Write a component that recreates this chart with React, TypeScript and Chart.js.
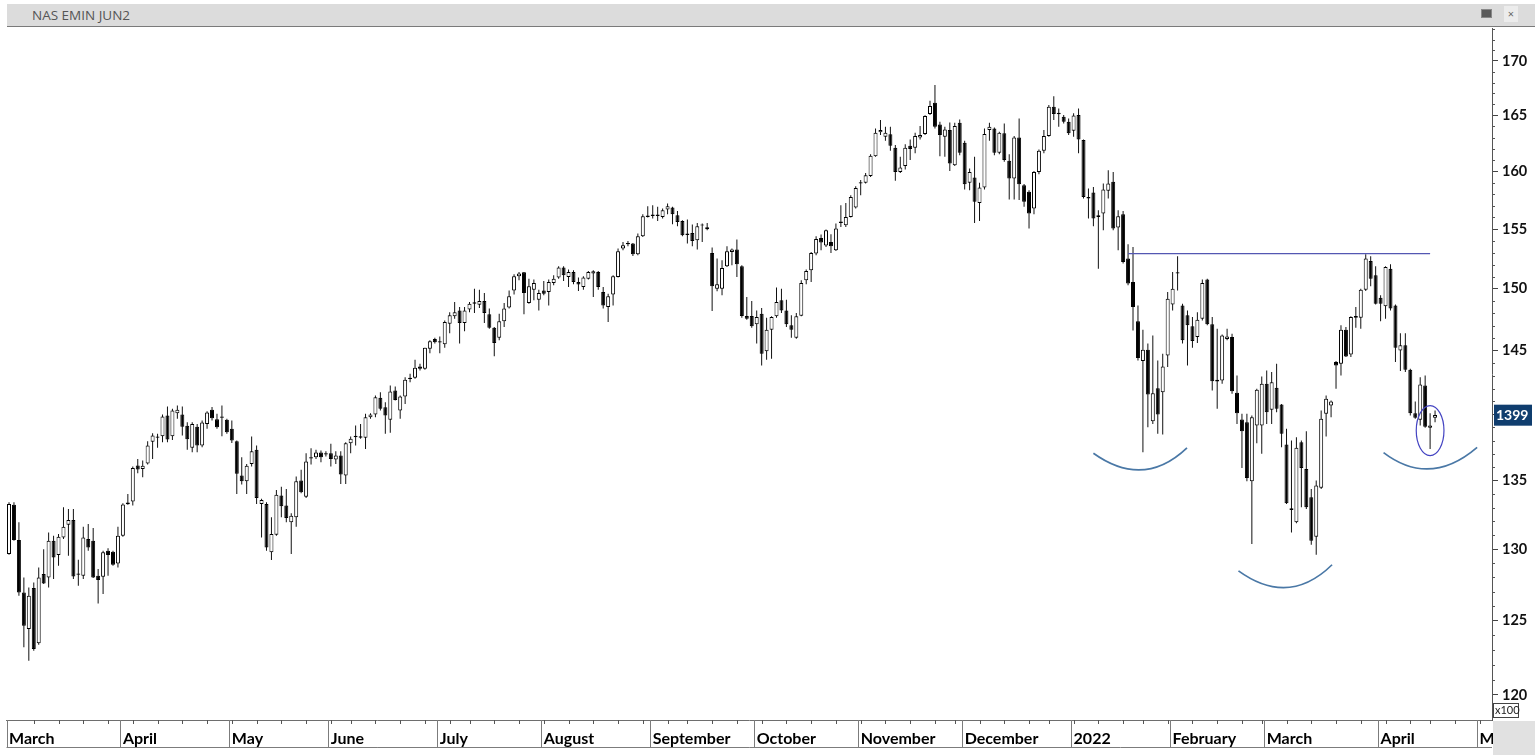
import { useEffect, useRef } from "react";
import Chart from "chart.js/auto";

const title = "NAS EMIN JUN2";

// trading sessions: weekdays from the first session, minus exchange holidays
const firstSession = "2021-03-01";
const sessionCount = 300;
const holidays = ["2021-05-31", "2021-07-05", "2021-09-06", "2021-11-25", "2021-12-24", "2022-01-17", "2022-02-21", "2022-04-15"];
const monthNames = ["January", "February", "March", "April", "May", "June", "July", "August", "September", "October", "November", "December"];

// daily OHLC, in points / 100 (one line per month, Mar 2021 .. Apr 2022)
const opens = [
  129.66, 133.21, 130.66, 126.95, 124.42, 127.26, 123.45, 128.24, 128.0, 130.61, 129.59, 130.85, 131.77, 132.11, 128.28, 128.12, 130.73, 130.61, 128.12, 128.05, 129.9, 129.83, 128.99,
  130.97, 133.38, 133.45, 136.13, 135.87, 136.28, 137.92, 138.31, 138.33, 139.91, 138.33, 140.09, 139.99, 139.12, 137.45, 139.06, 137.62, 139.27, 140.35, 139.63, 139.84, 139.58,
  138.89, 137.95, 135.37, 134.95, 136.24, 137.3, 133.28, 133.28, 129.78, 131.04, 133.89, 133.16, 131.94, 132.3, 135.0, 133.81, 136.74, 136.74, 137.09, 137.04,
  137.04, 136.58, 136.87, 135.37, 137.8, 138.25, 138.33, 138.21, 139.78, 139.99, 141.28, 140.55, 139.58, 141.85, 140.3, 141.38, 142.74, 142.85, 143.74, 143.56, 145.15, 145.92,
  145.73, 145.49, 147.15, 147.75, 148.23, 147.2, 148.3, 148.78, 148.7, 148.99, 147.91, 146.83, 146.03, 147.36, 148.46, 149.87, 151.03, 151.37, 148.83, 149.93, 149.11,
  149.87, 149.73, 150.48, 150.93, 151.76, 150.98, 151.39, 150.56, 150.15, 150.84, 151.26, 151.39, 149.73, 148.51, 149.54, 150.98, 153.35, 153.72, 153.78, 152.87, 154.4, 156.16,
  156.24, 156.12, 156.04, 156.68, 156.86, 156.18, 155.7, 154.63, 154.68, 154.06, 155.31, 155.16, 152.98, 150.01, 150.01, 151.87, 153.06, 153.27, 151.87, 147.77, 147.77,
  147.1, 147.96, 144.95, 146.67, 147.75, 149.05, 148.23, 147.02, 146.03, 147.8, 150.7, 151.53, 152.93, 154.25, 153.61, 153.91, 153.21, 155.53, 155.33, 156.04, 156.86,
  159.05, 158.99, 159.6, 161.34, 163.47, 163.07, 163.29, 162.09, 159.95, 160.46, 162.27, 162.09, 163.01, 163.31, 165.11, 166.14, 164.18, 163.07, 163.67, 160.54, 164.33,
  162.53, 158.99, 159.46, 157.25, 158.59, 163.67, 163.82, 161.64, 163.38, 160.93, 159.37, 163.01, 158.79, 158.21, 156.77, 159.95, 161.82, 163.13, 165.78, 165.23, 164.87, 164.42,
  163.61, 165.02, 162.77, 157.77, 158.16, 156.04, 156.34, 158.3, 159.08, 155.13, 156.27, 152.51, 150.56, 147.34, 144.16, 145.07, 139.48, 142.03, 141.72, 144.61,
  148.72, 151.37, 148.64, 147.83, 146.94, 146.08, 147.56, 150.76, 147.1, 142.69, 142.63, 145.92, 146.08, 141.67, 139.61, 139.4, 134.95, 139.14, 139.14,
  142.37, 140.35, 142.06, 140.76, 137.7, 132.96, 131.94, 137.87, 135.87, 133.76, 130.9, 134.46, 140.04, 140.68, 144.08, 143.95, 146.67, 144.69, 147.77, 147.64, 149.93, 152.31, 151.12,
  149.27, 148.56, 151.67, 148.64, 145.01, 145.41, 143.48, 140.09, 139.58, 142.24, 138.97, 139.74,
];
const highs = [
  133.4, 133.4, 131.94, 128.0, 127.3, 127.65, 128.71, 130.01, 131.21, 130.97, 131.09, 133.03, 132.91, 132.91, 129.25, 131.62, 131.82, 131.53, 128.59, 129.9, 130.08, 129.9, 131.62,
  133.32, 134.01, 136.04, 136.61, 136.49, 137.95, 138.56, 138.51, 139.99, 140.61, 140.43, 140.68, 140.61, 139.4, 139.4, 139.27, 139.53, 140.24, 140.56, 140.04, 140.68, 139.66,
  139.53, 138.0, 136.74, 136.24, 138.31, 137.62, 133.65, 133.4, 132.3, 134.31, 134.55, 134.38, 132.59, 135.3, 135.8, 137.04, 137.42, 137.3, 137.24, 137.19,
  137.75, 137.19, 137.19, 137.87, 138.31, 139.14, 139.27, 140.04, 140.09, 141.46, 141.72, 140.94, 142.24, 142.16, 141.46, 142.89, 143.16, 144.27, 143.95, 145.23, 145.81, 146.03,
  146.13, 147.42, 148.09, 148.91, 148.51, 148.51, 148.91, 150.01, 149.93, 149.65, 148.38, 146.88, 147.96, 148.83, 149.87, 151.2, 151.39, 151.39, 150.84, 150.76, 149.93,
  150.65, 150.76, 151.12, 151.87, 151.87, 151.59, 151.53, 150.93, 151.03, 151.47, 151.53, 151.47, 150.15, 149.6, 151.12, 153.35, 153.91, 154.0, 153.83, 154.63, 156.27, 156.97,
  157.05, 156.91, 156.77, 157.2, 156.91, 156.56, 155.76, 155.82, 155.39, 155.53, 155.48, 155.53, 153.44, 152.51, 152.37, 153.55, 153.35, 154.12, 151.95, 149.32, 148.99,
  148.23, 148.43, 147.64, 147.75, 150.1, 150.01, 149.11, 147.83, 148.01, 150.7, 151.59, 153.06, 154.4, 154.54, 154.97, 154.57, 155.48, 157.05, 157.25, 157.92, 158.7,
  159.23, 159.86, 161.52, 163.82, 164.57, 163.97, 163.97, 162.33, 161.28, 162.39, 162.83, 163.43, 164.03, 165.0, 166.33, 167.78, 164.42, 163.97, 164.36, 164.33, 164.63,
  162.71, 160.26, 161.28, 158.99, 163.82, 164.33, 163.91, 163.52, 164.27, 161.52, 163.13, 164.72, 158.9, 158.35, 160.04, 161.94, 163.67, 165.93, 166.75, 165.63, 165.02, 164.72,
  165.18, 165.63, 162.83, 158.5, 158.64, 156.62, 158.94, 160.1, 159.95, 156.62, 156.56, 153.72, 153.49, 148.64, 146.67, 145.55, 146.21, 144.21, 144.75, 149.73,
  151.39, 152.71, 148.78, 148.23, 147.69, 148.09, 150.76, 150.84, 147.69, 146.75, 146.29, 146.75, 146.34, 143.03, 140.04, 140.04, 139.91, 141.98, 142.95,
  143.42, 143.29, 143.95, 140.81, 138.89, 138.0, 138.25, 138.0, 138.71, 134.38, 135.0, 140.3, 141.46, 141.07, 144.16, 147.02, 146.88, 147.75, 148.51, 150.01, 152.87, 152.71, 151.87,
  149.46, 151.87, 152.03, 148.72, 146.39, 146.39, 143.55, 141.0, 142.89, 143.03, 140.09, 140.3,
];
const lows = [
  129.61, 130.61, 126.72, 123.18, 122.27, 122.95, 123.36, 127.54, 127.3, 127.89, 128.83, 130.73, 129.54, 127.89, 127.42, 127.89, 129.9, 127.96, 126.18, 126.84, 128.12, 128.83, 128.71,
  130.9, 133.21, 133.16, 135.54, 135.25, 136.19, 136.61, 137.45, 137.87, 137.87, 138.05, 139.66, 138.38, 137.3, 137.12, 137.12, 137.49, 138.89, 139.53, 138.89, 138.33, 138.51,
  137.82, 134.01, 134.7, 134.01, 136.04, 133.28, 130.85, 129.9, 129.23, 130.97, 132.3, 131.94, 129.66, 131.62, 134.06, 133.72, 136.19, 136.61, 136.36, 136.79,
  136.04, 136.24, 134.75, 134.75, 137.04, 137.62, 138.13, 137.37, 139.66, 139.78, 140.3, 138.51, 138.59, 141.07, 139.66, 140.81, 142.5, 142.77, 143.42, 143.48, 144.79, 145.55,
  144.79, 145.23, 146.39, 147.56, 145.55, 146.55, 148.09, 148.01, 148.43, 147.2, 146.75, 144.55, 145.81, 146.88, 148.38, 149.54, 150.7, 147.91, 148.78, 149.05, 148.23,
  149.46, 148.64, 150.29, 150.84, 150.65, 150.15, 150.37, 149.82, 149.93, 150.76, 149.32, 149.93, 148.38, 147.28, 148.64, 150.93, 153.21, 153.55, 152.73, 152.79, 154.34, 155.99,
  155.9, 155.7, 155.9, 156.27, 155.42, 155.25, 154.4, 153.78, 153.55, 153.27, 153.91, 154.91, 148.18, 149.79, 149.46, 151.81, 151.95, 150.98, 147.64, 147.48, 146.83,
  145.55, 143.82, 144.27, 144.35, 147.64, 148.01, 146.88, 146.03, 145.95, 147.75, 150.37, 150.56, 152.79, 153.21, 153.49, 152.98, 153.15, 155.19, 155.19, 155.99, 156.77,
  157.92, 158.94, 159.51, 161.28, 163.22, 162.71, 161.82, 159.17, 159.86, 160.16, 160.99, 161.59, 162.83, 163.22, 165.02, 163.82, 161.34, 161.28, 160.04, 160.46, 161.43,
  158.41, 158.35, 155.53, 155.7, 158.41, 162.71, 161.43, 161.52, 160.84, 157.55, 157.55, 157.49, 156.91, 155.05, 156.27, 159.75, 161.59, 163.07, 164.57, 163.97, 164.27, 163.22,
  163.07, 161.59, 157.63, 155.9, 155.25, 151.67, 154.91, 157.63, 154.91, 153.21, 152.1, 150.29, 146.61, 144.21, 137.12, 139.01, 139.27, 138.51, 138.46, 143.69,
  148.23, 149.87, 145.55, 143.82, 145.23, 145.59, 147.42, 147.02, 141.85, 140.43, 142.37, 145.81, 141.59, 139.27, 135.94, 134.95, 130.37, 137.8, 137.0,
  139.27, 139.27, 140.17, 137.49, 133.28, 131.21, 131.87, 133.03, 132.91, 130.32, 129.61, 134.38, 138.31, 139.78, 141.98, 143.03, 144.48, 144.48, 146.83, 146.75, 149.82, 150.21, 148.72,
  147.36, 147.56, 148.23, 144.08, 143.37, 143.29, 139.91, 139.66, 139.14, 138.97, 137.37, 139.4,
];
const closes = [
  133.28, 130.66, 126.95, 124.65, 126.72, 123.07, 128.0, 127.58, 130.61, 129.42, 130.9, 131.62, 132.11, 128.07, 128.19, 130.85, 130.13, 128.0, 127.82, 129.78, 129.59, 128.9, 130.97,
  133.23, 133.25, 135.94, 135.82, 136.11, 137.62, 138.38, 138.21, 139.84, 138.08, 140.3, 140.35, 139.06, 138.1, 139.27, 137.62, 139.37, 140.14, 139.71, 139.01, 139.74, 138.64,
  138.0, 135.5, 134.95, 136.11, 137.19, 133.72, 133.57, 130.13, 131.09, 133.96, 133.11, 132.26, 132.42, 134.95, 134.13, 136.43, 136.64, 137.09, 136.74, 136.94,
  136.61, 136.87, 135.45, 137.8, 138.13, 138.36, 138.21, 139.78, 139.99, 141.33, 140.43, 139.91, 141.77, 141.12, 141.38, 142.69, 142.85, 143.64, 143.56, 145.23, 145.73, 145.65,
  145.63, 147.28, 147.83, 148.09, 147.2, 148.23, 148.78, 148.89, 148.99, 148.01, 146.83, 145.59, 147.34, 148.38, 149.38, 151.03, 151.26, 149.65, 150.21, 150.48, 149.65,
  149.6, 150.56, 150.84, 151.76, 151.12, 151.39, 150.56, 150.35, 150.93, 151.39, 151.45, 150.15, 148.64, 149.38, 151.03, 153.12, 153.63, 153.83, 152.87, 154.4, 156.1, 156.04,
  156.12, 156.24, 156.62, 156.97, 156.27, 155.61, 154.48, 154.51, 154.0, 155.25, 155.39, 154.99, 150.21, 150.37, 151.73, 153.12, 153.27, 152.03, 147.77, 147.56, 146.94,
  147.69, 144.75, 146.67, 147.69, 148.91, 148.23, 147.1, 146.67, 147.75, 150.48, 151.47, 152.98, 154.17, 153.86, 154.91, 153.55, 155.05, 155.65, 156.04, 157.77, 158.55,
  158.94, 159.66, 161.37, 163.43, 163.67, 163.43, 162.27, 159.95, 160.34, 162.09, 161.97, 163.13, 163.22, 164.93, 165.84, 163.97, 163.22, 163.73, 160.69, 164.03, 161.64,
  158.88, 159.95, 157.34, 158.59, 163.31, 163.97, 161.64, 163.43, 160.99, 159.37, 163.01, 158.88, 157.34, 156.34, 159.95, 161.82, 163.13, 165.78, 165.11, 165.09, 164.42, 163.38,
  164.99, 162.83, 157.77, 157.63, 155.9, 156.18, 158.41, 158.94, 155.05, 156.1, 152.23, 150.43, 148.51, 144.4, 145.07, 141.54, 141.64, 139.99, 143.74, 149.19,
  150.01, 151.26, 145.81, 147.02, 145.76, 147.48, 150.48, 147.1, 142.58, 142.55, 146.21, 146.13, 141.79, 140.09, 138.71, 135.2, 139.78, 141.9, 142.37,
  140.17, 142.5, 140.43, 138.51, 133.32, 132.84, 137.45, 135.94, 133.03, 130.61, 134.63, 139.66, 141.2, 140.99, 143.82, 146.67, 144.53, 147.7, 147.64, 149.93, 152.51, 150.84, 148.78,
  148.78, 151.81, 148.38, 145.23, 145.41, 143.48, 140.09, 139.74, 142.32, 139.06, 139.14, 139.95,
];

// price axis (log scale)
const majorTicks = [120, 125, 130, 135, 140, 145, 150, 155, 160, 165, 170];
const yMin = 118.36;
const yMax = 173.11;
const lastPrice = 139.9;
const lastPriceText = "1399";
const multiplierText = "x100";

// hand-drawn annotations: [session index, price]
const neckline = { from: 226, to: 287, value: 152.93 };
const leftShoulderArc = [[219.0, 137.04], [228.8, 135.8], [237.9, 137.45]];
const headArc = [[248.3, 128.47], [258.1, 127.3], [267.2, 128.9]];
const rightShoulderArc = [[277.6, 137.09], [287.0, 135.87], [296.5, 137.49]];
const lastBarCircle = { center: 287.0, left: 284.2, right: 289.8, top: 140.68, bottom: 136.87 };

const buildSessions = () => {
  const out: Date[] = [];
  const d = new Date(firstSession + "T00:00:00Z");
  while (out.length < sessionCount) {
    const iso = d.toISOString().slice(0, 10);
    const wd = d.getUTCDay();
    if (wd !== 0 && wd !== 6 && !holidays.includes(iso)) out.push(new Date(d));
    d.setUTCDate(d.getUTCDate() + 1);
  }
  return out;
};

const sessions = buildSessions();
const labels = sessions.map((d) => d.toISOString().slice(0, 10));
const monthStarts = sessions
  .map((d, i) => (i === 0 || d.getUTCMonth() !== sessions[i - 1].getUTCMonth() ? i : -1))
  .filter((i) => i >= 0);
const weekStarts = sessions
  .map((d, i) => (i > 0 && d.getUTCDay() < sessions[i - 1].getUTCDay() ? i : -1))
  .filter((i) => i >= 0);
const monthLabel = (i: number) => {
  const d = sessions[i];
  return d.getUTCMonth() === 0 ? String(d.getUTCFullYear()) : monthNames[d.getUTCMonth()];
};

const yTickValues: number[] = [];
for (let v = Math.ceil(yMin); v <= Math.floor(yMax); v++) yTickValues.push(v);

const overlayPlugin = {
  id: "overlay",
  afterDraw(chart: any) {
    const { ctx, chartArea, scales } = chart;
    const xs = scales.x;
    const ys = scales.y;
    const { left, right, bottom } = chartArea;
    const px = (i: number) => xs.getPixelForValue(i);
    const py = (v: number) => ys.getPixelForValue(v);
    const slot = px(1) - px(0);
    const stripBottom = 747;

    ctx.save();
    ctx.lineWidth = 1;

    // date strip: month separators, weekly ticks, lower edge
    ctx.strokeStyle = "#7c7c7c";
    ctx.beginPath();
    monthStarts.forEach((i) => {
      const x = Math.round(px(i) - slot / 2) + 0.5;
      ctx.moveTo(x, bottom);
      ctx.lineTo(x, stripBottom);
    });
    ctx.moveTo(left, stripBottom + 0.5);
    ctx.lineTo(right, stripBottom + 0.5);
    ctx.stroke();
    ctx.strokeStyle = "#555";
    ctx.beginPath();
    weekStarts.forEach((i) => {
      const x = Math.round(px(i)) + 0.5;
      ctx.moveTo(x, bottom);
      ctx.lineTo(x, bottom + 4);
    });
    ctx.stroke();

    // minor price ticks
    ctx.strokeStyle = "#555";
    ctx.beginPath();
    yTickValues
      .filter((v) => v % 5 !== 0)
      .forEach((v) => {
        const y = Math.round(py(v)) + 0.5;
        ctx.moveTo(right, y);
        ctx.lineTo(right + 3, y);
      });
    ctx.stroke();

    // grey corner under the price axis
    ctx.fillStyle = "#e1e1e1";
    ctx.fillRect(right + 1, bottom + 1, chart.width - right, chart.height - bottom);

    // multiplier box
    ctx.fillStyle = "#fff";
    ctx.fillRect(right + 1.5, bottom - 16.5, 25, 14);
    ctx.strokeStyle = "#444";
    ctx.strokeRect(right + 1.5, bottom - 16.5, 25, 14);
    ctx.fillStyle = "#222";
    ctx.font = "11px Lato";
    ctx.textBaseline = "middle";
    ctx.textAlign = "left";
    ctx.fillText(multiplierText, right + 3, bottom - 9.5);

    // last price tag
    const yp = py(lastPrice);
    ctx.fillStyle = "#0f3d6e";
    ctx.fillRect(right + 2, yp - 11, 38, 21);
    ctx.fillStyle = "#fff";
    ctx.font = "bold 14px Lato";
    ctx.fillText(lastPriceText, right + 4, yp);

    // neckline
    ctx.strokeStyle = "#5357b2";
    ctx.lineWidth = 1.2;
    ctx.beginPath();
    const yn = py(neckline.value);
    ctx.moveTo(px(neckline.from), yn);
    ctx.lineTo(px(neckline.to), yn);
    ctx.stroke();

    // shoulder / head arcs
    ctx.strokeStyle = "#4a78a6";
    ctx.lineWidth = 1.7;
    [leftShoulderArc, headArc, rightShoulderArc].forEach((arc) => {
      const [p0, p1, p2] = arc.map(([i, v]) => [px(i), py(v)]);
      const cx = 2 * p1[0] - (p0[0] + p2[0]) / 2;
      const cy = 2 * p1[1] - (p0[1] + p2[1]) / 2;
      ctx.beginPath();
      ctx.moveTo(p0[0], p0[1]);
      ctx.quadraticCurveTo(cx, cy, p2[0], p2[1]);
      ctx.stroke();
    });

    // circle round the last bars
    const c = lastBarCircle;
    const yTop = py(c.top);
    const yBot = py(c.bottom);
    ctx.strokeStyle = "#4444c2";
    ctx.lineWidth = 1.2;
    ctx.beginPath();
    ctx.ellipse(px(c.center), (yTop + yBot) / 2, (px(c.right) - px(c.left)) / 2, (yBot - yTop) / 2, 0, 0, Math.PI * 2);
    ctx.stroke();

    ctx.restore();
  },
};

const App = () => {
  const canvasRef = useRef<HTMLCanvasElement | null>(null);

  useEffect(() => {
    if (!canvasRef.current) return;
    const up = closes.map((c, i) => c >= opens[i]);

    const chart = new Chart(canvasRef.current, {
      type: "bar",
      data: {
        labels,
        datasets: [
          {
            label: "range",
            data: lows.map((l, i) => [l, highs[i]]),
            backgroundColor: "#111",
            barThickness: 1,
            grouped: false,
            inflateAmount: 0,
            order: 2,
          },
          {
            label: "body",
            data: opens.map((o, i) => [o, closes[i]]),
            backgroundColor: up.map((u) => (u ? "#fff" : "#000")),
            borderColor: "#000",
            borderWidth: 1,
            borderSkipped: false,
            barThickness: 4,
            grouped: false,
            inflateAmount: 0,
            order: 1,
          },
        ],
      } as any,
      options: {
        animation: false,
        responsive: false,
        maintainAspectRatio: false,
        layout: { padding: { left: 6, top: 28, right: 0, bottom: 0 } },
        plugins: {
          legend: { display: false },
          tooltip: { enabled: false },
        },
        scales: {
          x: {
            type: "category",
            offset: true,
            afterFit: (axis: any) => {
              axis.height = 35;
            },
            grid: { display: false, drawOnChartArea: false, drawTicks: false },
            border: { display: true, color: "#6e6e6e" },
            ticks: {
              autoSkip: false,
              maxRotation: 0,
              minRotation: 0,
              align: "start",
              padding: 9,
              color: "#000",
              font: { family: "Lato", weight: "bold", size: 16 },
              callback: (_v: any, i: number) => (monthStarts.includes(i) ? monthLabel(i) : ""),
            },
          },
          y: {
            type: "logarithmic",
            position: "right",
            min: yMin,
            max: yMax,
            afterBuildTicks: (axis: any) => {
              axis.ticks = yTickValues.map((v) => ({ value: v }));
            },
            afterFit: (axis: any) => {
              axis.width = 43;
            },
            grid: {
              drawOnChartArea: false,
              drawTicks: true,
              tickLength: 6,
              tickColor: (ctx: any) => (ctx.tick && majorTicks.includes(ctx.tick.value) ? "#444" : "rgba(0,0,0,0)"),
            },
            border: { display: true, color: "#555" },
            ticks: {
              autoSkip: false,
              padding: 4,
              color: "#111",
              font: { family: "Lato", weight: "bold", size: 14.5 },
              callback: (v: any) => (majorTicks.includes(Number(v)) ? String(v) : ""),
            },
          },
        },
      } as any,
      plugins: [overlayPlugin],
    });

    return () => {
      chart.destroy();
    };
  }, []);

  return (
    <div style={{ position: "absolute", left: 0, top: 0, width: 1535, height: 755, background: "#fff", overflow: "hidden" }}>
      <canvas ref={canvasRef} width={1535} height={755} style={{ position: "absolute", left: 0, top: 0 }} />
      <div
        style={{
          position: "absolute",
          left: 7,
          top: 4,
          width: 1528,
          height: 22,
          background: "#dcdcdc",
          borderBottom: "1px solid #7a7a7a",
          fontFamily: "'Open Sans', sans-serif",
          fontSize: 13.5,
          color: "#555",
          lineHeight: "22px",
        }}
      >
        <span style={{ position: "absolute", left: 25 }}>{title}</span>
        <span style={{ position: "absolute", left: 1474, top: 5, width: 9, height: 7, background: "#5a5a5a", border: "1px solid #888" }} />
        <span style={{ position: "absolute", left: 1497, top: 2, width: 14, height: 16, background: "#ececec", fontSize: 11, lineHeight: "15px", textAlign: "center", color: "#666" }}>
          ×
        </span>
      </div>
    </div>
  );
};

export default App;
